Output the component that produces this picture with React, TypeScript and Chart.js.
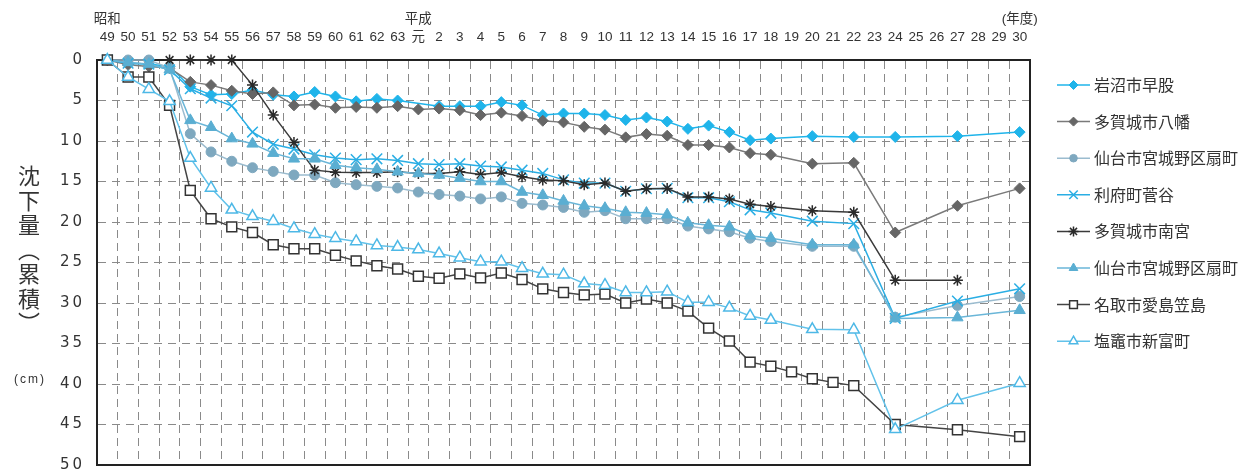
import React, { useEffect, useRef } from 'react';
import { Chart, registerables } from 'chart.js';
import { drawPoint } from 'chart.js/helpers';

Chart.register(...registerables);

// ---- data ----
const yearLabels = [
  '49', '50', '51', '52', '53', '54', '55', '56', '57', '58', '59', '60', '61', '62', '63',
  '元', '2', '3', '4', '5', '6', '7', '8', '9', '10',
  '11', '12', '13', '14', '15', '16', '17', '18', '19', '20',
  '21', '22', '23', '24', '25', '26', '27', '28', '29', '30',
];
const eraLabels: Record<string, string> = { '49': '昭和', '元': '平成', '30': '(年度)' };

const iwanumaHayamata = [
  0, 0.4, 0.5, 0.8, 3.3, 4.3, 4.2, 3.7, 4.3, 4.5, 3.95, 4.5, 5.1, 4.8, 5.0,
  null, 5.7, 5.7, 5.7, 5.2, 5.6, 6.8, 6.6, 6.6, 6.8,
  7.4, 7.1, 7.6, 8.5, 8.1, 8.9, 9.9, 9.7, null, 9.4,
  null, 9.5, null, 9.5, null, null, 9.4, null, null, 8.9,
];
const tagajoHachiman = [
  0, 0.6, 0.8, 1.0, 2.7, 3.1, 3.8, 4.2, 4.0, 5.6, 5.5, 5.9, 5.8, 5.9, 5.7,
  6.1, 6.0, 6.2, 6.8, 6.5, 6.9, 7.5, 7.7, 8.25, 8.6,
  9.55, 9.15, 9.35, 10.5, 10.5, 10.8, 11.5, 11.7, null, 12.8,
  null, 12.7, null, 21.3, null, null, 18.0, null, null, 15.85,
];
const sendaiOgimachiA = [
  0, 0, 0, 1.0, 9.1, 11.35, 12.5, 13.3, 13.75, 14.2, 14.2, 15.15, 15.4, 15.6, 15.8,
  16.3, 16.6, 16.8, 17.15, 16.9, 17.7, 17.9, 18.2, 18.8, 18.6,
  19.6, 19.6, 19.6, 20.5, 20.85, 21.2, 22.0, 22.4, null, 23.0,
  null, 23.0, null, 31.75, null, null, 30.3, null, null, 29.2,
];
const rifuSugaya = [
  0, 0.4, 0.5, 1.2, 3.55, 4.7, 5.65, 8.9, 10.4, 11.0, 11.7, 12.1, 12.3, 12.2, 12.4,
  12.8, 12.9, 12.8, 13.1, 13.2, 13.6, 14.0, 14.8, 15.2, 15.2,
  16.2, 15.9, 15.85, 17.0, 17.0, 17.5, 18.5, 18.9, null, 19.9,
  null, 20.2, null, 31.9, null, null, 29.75, null, null, 28.25,
];
const tagajoMinamimiya = [
  null, null, null, 0, 0, 0, 0, 3.1, 6.8, 10.2, 13.6, 13.85, 13.9, 13.9, 13.8,
  14.0, 14.0, 13.8, 14.15, 13.9, 14.4, 14.8, 14.9, 15.4, 15.2,
  16.2, 15.9, 15.85, 16.9, 16.9, 17.15, 17.8, 18.1, null, 18.6,
  null, 18.8, null, 27.2, null, null, 27.2, null, null, null,
];
const sendaiOgimachiB = [
  0, 0.3, 0.5, 1.2, 7.45, 8.3, 9.7, 10.35, 11.5, 12.2, 12.2, 13.0, 13.3, 13.5, 13.8,
  14.0, 14.2, 14.6, 15.0, 15.0, 16.3, 16.7, 17.4, 18.0, 18.3,
  18.8, 18.9, 19.1, 20.1, 20.4, 20.6, 21.7, 22.0, null, 22.8,
  null, 22.8, null, 31.9, null, null, 31.8, null, null, 30.9,
];
const natoriKasashima = [
  0, 2.1, 2.1, 5.6, 16.1, 19.6, 20.6, 21.3, 22.8, 23.3, 23.3, 24.1, 24.8, 25.4, 25.8,
  26.7, 26.95, 26.4, 26.9, 26.3, 27.1, 28.25, 28.7, 29.0, 28.9,
  30.0, 29.5, 30.0, 31.0, 33.1, 34.7, 37.3, 37.8, 38.5, 39.35,
  39.8, 40.2, null, 45.0, null, null, 45.65, null, null, 46.5,
];
const shiogamaShintomi = [
  0, 2.1, 3.6, 5.1, 12.1, 15.8, 18.5, 19.3, 19.9, 20.8, 21.5, 22.0, 22.4, 22.9, 23.1,
  23.4, 23.9, 24.4, 24.9, 24.9, 25.7, 26.4, 26.5, 27.6, 27.8,
  28.7, 28.7, 28.6, 29.9, 29.9, 30.6, 31.6, 32.1, null, 33.25,
  null, 33.3, null, 45.6, null, null, 42.0, null, null, 39.9,
];

const seriesNames = [
  '岩沼市早股', '多賀城市八幡', '仙台市宮城野区扇町', '利府町菅谷',
  '多賀城市南宮', '仙台市宮城野区扇町', '名取市愛島笠島', '塩竈市新富町',
];
const yTitleChars = ['沈', '下', '量', '︵', '累', '積', '︶'];
const yUnit = '(cm)';

// ---- styles ----
const styles = [
  { line: '#1fb4ea', fill: '#1fb4ea', stroke: '#1fb4ea', ps: 'rectRot', r: 5.5, bw: 1, lr: 4.5 },
  { line: '#7a7a7a', fill: '#666666', stroke: '#666666', ps: 'rectRot', r: 5.5, bw: 1, lr: 4.5 },
  { line: '#9bbccf', fill: '#7ea8bf', stroke: '#7ea8bf', ps: 'circle', r: 5, bw: 1, lr: 3.8 },
  { line: '#2aaee4', fill: '#2aaee4', stroke: '#2aaee4', ps: 'crossRot', r: 7.5, bw: 1.5, lr: 6 },
  { line: '#3a3a3a', fill: '#2a2a2a', stroke: '#2a2a2a', ps: 'star', r: 5.5, bw: 1.5, lr: 5 },
  { line: '#6ab6d8', fill: '#5aaed2', stroke: '#5aaed2', ps: 'triangle', r: 6.5, bw: 1, lr: 5 },
  { line: '#444444', fill: '#ffffff', stroke: '#333333', ps: 'rect', r: 7, bw: 1.5, lr: 5.5 },
  { line: '#62c2ea', fill: '#ffffff', stroke: '#4db8e6', ps: 'triangle', r: 6.5, bw: 1.5, lr: 5 },
];

const seriesData = [
  iwanumaHayamata, tagajoHachiman, sendaiOgimachiA, rifuSugaya,
  tagajoMinamimiya, sendaiOgimachiB, natoriKasashima, shiogamaShintomi,
];

const CJK = "'Noto Sans CJK JP', sans-serif";

const decorPlugin = {
  id: 'decor',
  beforeDatasetsDraw(chart: any) {
    const { ctx, chartArea: a } = chart;
    ctx.save();
    ctx.strokeStyle = '#222222';
    ctx.lineWidth = 2;
    ctx.beginPath();
    ctx.moveTo(a.right, a.top);
    ctx.lineTo(a.right, a.bottom);
    ctx.lineTo(a.left, a.bottom);
    ctx.stroke();
    ctx.restore();
  },
  afterDatasetsDraw(chart: any) {
    // y tick labels (drawn after datasets, z=1) use wide letter spacing
    (chart.ctx as any).letterSpacing = '3px';
  },
  afterDraw(chart: any) {
    const ctx = chart.ctx;
    (ctx as any).letterSpacing = '0px';
    ctx.save();
    // y axis title, vertical
    ctx.fillStyle = '#333333';
    ctx.font = `22px ${CJK}`;
    ctx.textAlign = 'center';
    ctx.textBaseline = 'middle';
    yTitleChars.forEach((c, i) => ctx.fillText(c, 29, 176 + i * 24.5));
    ctx.font = `12px 'Liberation Sans', sans-serif`;
    (ctx as any).letterSpacing = '2px';
    ctx.fillText(yUnit, 30, 380);
    (ctx as any).letterSpacing = '0px';

    // legend
    const x0 = 1057;
    const x1 = 1090;
    chart.data.datasets.forEach((ds: any, i: number) => {
      const st = styles[i];
      const y = 85 + i * 36.6;
      ctx.strokeStyle = st.line;
      ctx.lineWidth = 1.5;
      ctx.beginPath();
      ctx.moveTo(x0, y);
      ctx.lineTo(x1, y);
      ctx.stroke();
      ctx.fillStyle = st.fill;
      ctx.strokeStyle = st.stroke;
      ctx.lineWidth = st.bw;
      drawPoint(ctx, { pointStyle: st.ps, rotation: 0, radius: st.lr, borderWidth: st.bw } as any, (x0 + x1) / 2, y);
      ctx.fillStyle = '#333333';
      ctx.font = `16px ${CJK}`;
      ctx.textAlign = 'left';
      ctx.textBaseline = 'middle';
      ctx.fillText(ds.label, 1094, y);
    });
    ctx.restore();
  },
};

export default function App() {
  const ref = useRef<HTMLCanvasElement | null>(null);

  useEffect(() => {
    if (!ref.current) return;
    const datasets = seriesData.map((data, i) => {
      const st = styles[i];
      return {
        label: seriesNames[i],
        data,
        borderColor: st.line,
        backgroundColor: st.fill,
        borderWidth: 1.5,
        pointStyle: st.ps,
        pointRadius: st.r,
        pointBackgroundColor: st.fill,
        pointBorderColor: st.stroke,
        pointBorderWidth: st.bw,
        spanGaps: true,
        tension: 0,
        clip: false,
        order: seriesData.length - i,
      };
    });

    const chart = new Chart(ref.current, {
      type: 'line',
      data: {
        labels: yearLabels.map((l) => (eraLabels[l] ? [eraLabels[l], l] : l)),
        datasets: datasets as any,
      },
      options: {
        animation: false,
        responsive: false,
        devicePixelRatio: 1,
        layout: { padding: { left: 0, right: 218, top: 0, bottom: 4 } },
        plugins: { legend: { display: false }, tooltip: { enabled: false } },
        scales: {
          x: {
            position: 'top',
            offset: true,
            grid: { offset: true, color: '#8a8a8a', lineWidth: 1, drawTicks: false },
            border: { display: true, color: '#222222', width: 2, dash: [8, 5] },
            ticks: {
              autoSkip: false,
              maxRotation: 0,
              minRotation: 0,
              padding: 13,
              color: '#333333',
              font: { family: "'Liberation Sans', 'Noto Sans CJK JP', sans-serif", size: 13.5, lineHeight: 1.37 },
            },
            afterFit: (s: any) => {
              s.height = 60;
            },
          },
          y: {
            reverse: true,
            min: 0,
            max: 50,
            grid: { color: '#8a8a8a', lineWidth: 1, drawTicks: false },
            border: { display: true, color: '#222222', width: 2, dash: [8, 6] },
            ticks: {
              stepSize: 5,
              padding: 12,
              z: 1,
              color: '#333333',
              font: { family: "'DejaVu Sans', sans-serif", size: 15 },
            },
            afterFit: (s: any) => {
              s.width = 97;
              s.paddingTop = 0;
              s.paddingBottom = 0;
            },
          },
        },
      },
      plugins: [decorPlugin],
    });
    return () => chart.destroy();
  }, []);

  return (
    <div style={{ position: 'absolute', left: 0, top: 0, width: 1248, height: 474, background: '#ffffff' }}>
      <canvas ref={ref} width={1248} height={474} />
    </div>
  );
}
